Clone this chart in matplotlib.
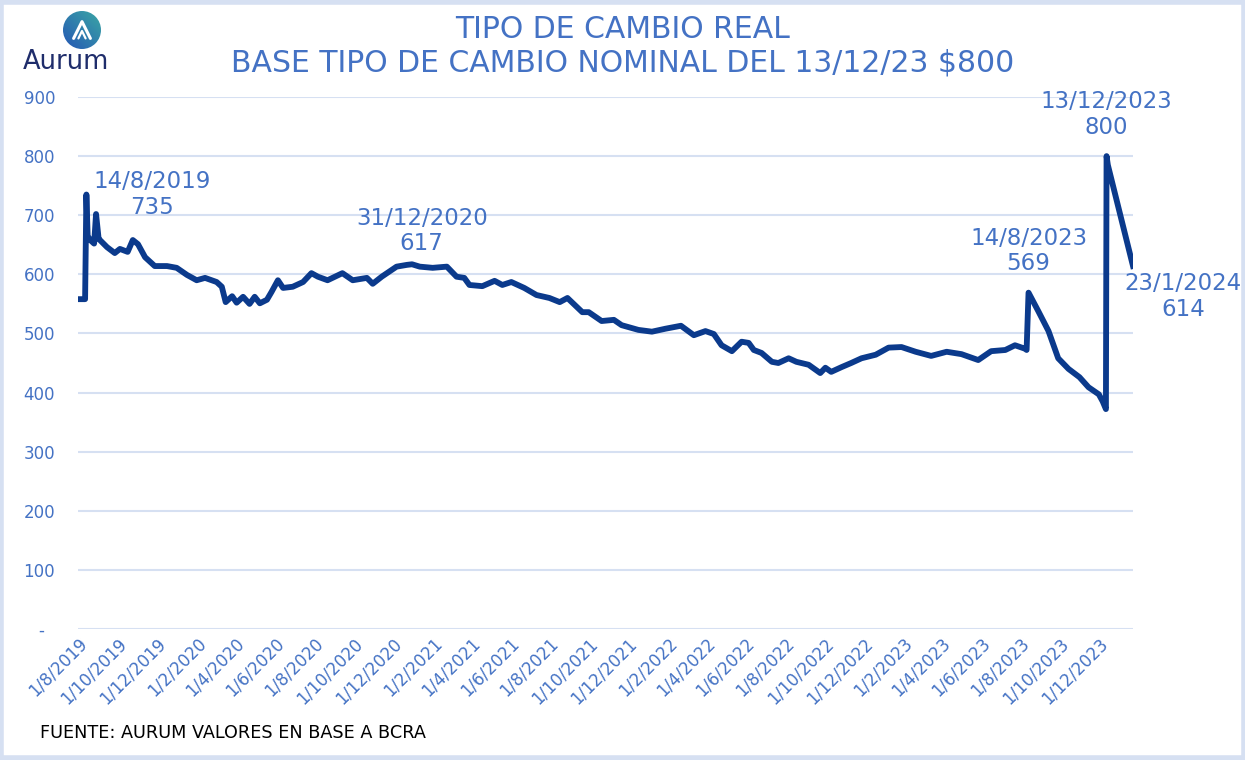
import matplotlib
matplotlib.use("Agg")
import matplotlib.pyplot as plt
import numpy as np
import pandas as pd
from matplotlib.patches import Circle, Rectangle

# tipo de cambio real (base TCN 13/12/23 = $800)
fechas = [
    "2019-08-01", "2019-08-12", "2019-08-14", "2019-08-16", "2019-08-20", "2019-08-26",
    "2019-08-29", "2019-09-02", "2019-09-04", "2019-09-15", "2019-09-27", "2019-10-05",
    "2019-10-17", "2019-10-25", "2019-11-02", "2019-11-13", "2019-11-28", "2019-12-17",
    "2020-01-01", "2020-01-17", "2020-02-01", "2020-02-14", "2020-03-03", "2020-03-11",
    "2020-03-17", "2020-03-27", "2020-04-03", "2020-04-13", "2020-04-23", "2020-05-01",
    "2020-05-09", "2020-05-20", "2020-05-27", "2020-06-06", "2020-06-14", "2020-06-29",
    "2020-07-15", "2020-07-28", "2020-08-07", "2020-08-22", "2020-09-14", "2020-09-30",
    "2020-10-22", "2020-10-31", "2020-11-14", "2020-12-07", "2020-12-23", "2020-12-31",
    "2021-01-12", "2021-02-01", "2021-02-23", "2021-03-10", "2021-03-22", "2021-03-30",
    "2021-04-19", "2021-05-08", "2021-05-20", "2021-06-03", "2021-06-23", "2021-07-12",
    "2021-08-01", "2021-08-17", "2021-08-29", "2021-09-21", "2021-10-01", "2021-10-21",
    "2021-11-09", "2021-11-21", "2021-12-17", "2022-01-07", "2022-01-28", "2022-02-21",
    "2022-03-13", "2022-03-31", "2022-04-13", "2022-04-25", "2022-05-11", "2022-05-26",
    "2022-06-06", "2022-06-14", "2022-06-26", "2022-07-12", "2022-07-22", "2022-08-07",
    "2022-08-19", "2022-09-07", "2022-09-25", "2022-10-03", "2022-10-12", "2022-10-28",
    "2022-11-12", "2022-11-28", "2022-12-20", "2023-01-09", "2023-01-29", "2023-02-20",
    "2023-03-16", "2023-04-09", "2023-05-02", "2023-05-28", "2023-06-17", "2023-07-09",
    "2023-07-24", "2023-08-09", "2023-08-11", "2023-08-14", "2023-08-29", "2023-09-14",
    "2023-09-29", "2023-10-15", "2023-11-01", "2023-11-15", "2023-12-01", "2023-12-07",
    "2023-12-12", "2023-12-13", "2023-12-15", "2024-01-23",
]
tcr = [
    558, 558, 735, 665, 658, 652,
    702, 660, 658, 646, 636, 643,
    638, 658, 651, 629, 614, 614,
    611, 599, 590, 594, 587, 579,
    553, 563, 552, 562, 550, 562,
    551, 557, 570, 590, 577, 579,
    587, 602, 596, 590, 602, 590,
    594, 584, 596, 613, 616, 617,
    613, 611, 613, 596, 594, 582,
    580, 589, 582, 587, 577, 565,
    560, 553, 560, 536, 536, 521,
    523, 514, 506, 503, 508, 513,
    497, 504, 499, 480, 470, 486,
    484, 472, 467, 452, 450, 458,
    452, 447, 433, 442, 435, 443,
    450, 458, 464, 476, 477, 469,
    462, 469, 465, 455, 470, 472,
    480, 474, 472, 569, 538, 504,
    458, 440, 426, 409, 397, 385,
    372, 800, 785, 614,
]

y_ticks = [0, 100, 200, 300, 400, 500, 600, 700, 800, 900]
y_labels = ["-  ", "100", "200", "300", "400", "500", "600", "700", "800", "900"]
x_ticks = pd.date_range("2019-08-01", "2023-12-01", freq="2MS")

# etiquetas de puntos destacados (fecha, valor, texto, desplazamiento en pt)
etiquetas = [
    ("2019-08-14", 735, "14/8/2019\n735", (47, 0)),
    ("2020-12-31", 617, "31/12/2020\n617", (7, 24)),
    ("2023-08-14", 569, "14/8/2023\n569", (0, 30)),
    ("2023-12-13", 800, "13/12/2023\n800", (0, 30)),
    ("2024-01-23", 614, "23/1/2024\n614", (36, -22)),
]

azul = "#4472C4"
linea = "#0B3A8C"
grilla = "#D6E0F2"

fig = plt.figure(figsize=(12.45, 7.6), dpi=100)
ax = fig.add_axes([78 / 1245, 131 / 760, 1055 / 1245, 532 / 760])

fechas_dt = pd.to_datetime(fechas)
ax.plot(fechas_dt, tcr, color=linea, lw=4.2, solid_joinstyle="round", zorder=3)

ax.set_xlim(pd.Timestamp("2019-08-01"), pd.Timestamp("2024-01-23"))
ax.set_ylim(0, 900)
ax.set_yticks(y_ticks)
ax.set_yticklabels(y_labels)
ax.grid(axis="y", color=grilla, lw=1.5)
ax.set_axisbelow(True)
for s in ax.spines.values():
    s.set_visible(False)
ax.tick_params(axis="y", length=0, pad=16.5, labelsize=12, labelcolor=azul)

ax.set_xticks(x_ticks)
ax.set_xticklabels([f"{d.day}/{d.month}/{d.year}" for d in x_ticks])
ax.tick_params(axis="x", length=0, pad=4, labelsize=12, labelcolor=azul)
for lab in ax.get_xticklabels():
    lab.set_rotation(45)
    lab.set_ha("right")
    lab.set_va("top")
    lab.set_rotation_mode("anchor")

for f, v, txt, off in etiquetas:
    ax.annotate(txt, xy=(pd.Timestamp(f), v), xytext=off, textcoords="offset points",
                ha="center", va="center", color=azul, fontsize=16.5, linespacing=1.15)

# titulo
fig.text(0.5, 1 - 30 / 760, "TIPO DE CAMBIO REAL", ha="center", va="center",
         color=azul, fontsize=21.5)
fig.text(0.5, 1 - 63 / 760, "BASE TIPO DE CAMBIO NOMINAL DEL 13/12/23 $800",
         ha="center", va="center", color=azul, fontsize=21.5)

# logo
lax = fig.add_axes([62 / 1245, 1 - 50 / 760, 40 / 1245, 40 / 760])
lax.set_xlim(-1, 1)
lax.set_ylim(-1, 1)
lax.set_aspect("equal")
lax.axis("off")
gx, gy = np.meshgrid(np.linspace(0, 1, 50), np.linspace(0, 1, 50))
grad = gx + gy
circ = Circle((0, 0), 0.95, transform=lax.transData)
img = lax.imshow(grad, extent=(-1, 1, -1, 1), origin="lower",
                 cmap=matplotlib.colors.LinearSegmentedColormap.from_list("g", ["#2555B5", "#3BA9A4"]))
img.set_clip_path(circ)
lax.plot([-0.42, 0.0, 0.42], [-0.42, 0.42, -0.42], color="white", lw=2.2,
         solid_capstyle="round", solid_joinstyle="round")
lax.plot([-0.18, 0.0, 0.18], [-0.42, -0.05, -0.42], color="white", lw=1.6,
         solid_capstyle="round")
fig.text(23 / 1245, 1 - 62 / 760, "Aurum", ha="left", va="center", color="#1F2D6B",
         fontsize=18.5)

fig.text(40 / 1245, 1 - 733 / 760, "FUENTE: AURUM VALORES EN BASE A BCRA", ha="left",
         va="center", color="black", fontsize=12.7)

# marco
fig.patches.append(Rectangle((0.001, 0.002), 0.998, 0.996, transform=fig.transFigure,
                             fill=False, edgecolor=grilla, lw=4))

fig.savefig("out.png", dpi=100)
